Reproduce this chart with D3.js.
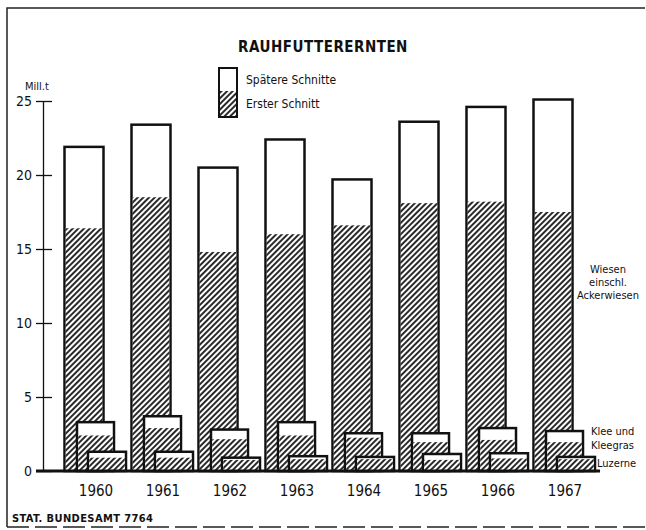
<!DOCTYPE html>
<html lang="de">
<head>
<meta charset="utf-8">
<title>Rauhfuttererernten</title>
<style>
  body { margin: 0; background: #fff; }
  text { font-family: "Liberation Sans Narrow", "DejaVu Sans Condensed", "Roboto Condensed", sans-serif; font-stretch: condensed; fill: #111; }
  .title { font-size: 15px; font-weight: bold; letter-spacing: 0.5px; text-anchor: middle; }
  .axis text { font-size: 14px; }
  .lbl { font-size: 12px; }
  .side { font-size: 11px; }
  .bar { fill: #fff; stroke: #111; stroke-width: 2.5; }
  .hatch { fill: url(#hatch); }
</style>
</head>
<body>
<div id="chart"></div>
<script src="https://cdn.jsdelivr.net/npm/d3@7"></script>
<script>

var years = [1960, 1961, 1962, 1963, 1964, 1965, 1966, 1967];

// Wiesen einschl. Ackerwiesen
var wiesenTotal  = [21.9, 23.4, 20.5, 22.4, 19.7, 23.6, 24.6, 25.1];
var wiesenErster = [16.4, 18.5, 14.8, 16.0, 16.6, 18.1, 18.2, 17.5];
// Klee und Kleegras
var kleeTotal  = [3.3, 3.7, 2.8, 3.3, 2.55, 2.55, 2.9, 2.7];
var kleeErster = [2.4, 2.9, 2.15, 2.4, 2.25, 1.95, 2.1, 1.95];
// Luzerne
var luzTotal  = [1.3, 1.3, 0.9, 1.0, 0.95, 1.15, 1.2, 0.95];
var luzErster = [0.9, 0.9, 0.75, 0.8, 0.8, 0.75, 0.85, 0.8];

var yTicks = [0, 5, 10, 15, 20, 25];

var width = 646, height = 530;

var svg = d3.select("#chart").append("svg")
    .attr("width", width)
    .attr("height", height);

var defs = svg.append("defs");
var pat = defs.append("pattern")
    .attr("id", "hatch")
    .attr("patternUnits", "userSpaceOnUse")
    .attr("width", 4)
    .attr("height", 4)
    .attr("patternTransform", "rotate(45)");
pat.append("rect").attr("width", 4).attr("height", 4).attr("fill", "#fff");
pat.append("line")
    .attr("x1", 1).attr("y1", 0).attr("x2", 1).attr("y2", 4)
    .attr("stroke", "#111").attr("stroke-width", 1.8);

var yScale = d3.scaleLinear().domain([0, 25]).range([471, 101]);
var xScale = d3.scalePoint().domain(years).range([95.5, 564.5]);

// frame
svg.append("path")
   .attr("d", "M7,527 L7,8 L645,8")
   .attr("fill", "none")
   .attr("stroke", "#222")
   .attr("stroke-width", 1.5);
svg.append("line")
   .attr("x1", 7).attr("x2", 646).attr("y1", 527).attr("y2", 527)
   .attr("stroke", "#222").attr("stroke-width", 1.5)
   .attr("stroke-dasharray", "22,6");

svg.append("text").attr("class", "title")
   .attr("x", 323).attr("y", 52)
   .text("RAUHFUTTERERNTEN");

// legend
svg.append("rect").attr("class", "bar")
   .attr("x", 219).attr("y", 68).attr("width", 18).attr("height", 49)
   .style("stroke-width", 2);
svg.append("rect").attr("class", "hatch")
   .attr("x", 220).attr("y", 91).attr("width", 16).attr("height", 25);
svg.append("text").attr("class", "lbl")
   .attr("x", 246).attr("y", 84).text("Spätere Schnitte");
svg.append("text").attr("class", "lbl")
   .attr("x", 246).attr("y", 108).text("Erster Schnitt");

// y axis
var yAxis = d3.axisLeft(yScale)
    .tickValues(yTicks)
    .tickSizeInner(7)
    .tickSizeOuter(0)
    .tickPadding(4);

var gy = svg.append("g")
    .attr("class", "axis")
    .attr("transform", "translate(43,0)")
    .call(yAxis);
gy.attr("font-family", null).attr("font-size", null);
gy.select(".domain").attr("stroke", "#111").attr("stroke-width", 1.3);
gy.selectAll(".tick line").attr("x1", -7).attr("x2", 9).attr("stroke", "#111").attr("stroke-width", 1.3);

svg.append("text")
   .attr("x", 25).attr("y", 90)
   .style("font-size", "11px")
   .text("Mill.t");

// bars
function drawBars(total, erster, offset, w) {
  var grp = svg.append("g").selectAll("g").data(years).enter().append("g");
  grp.append("rect")
     .attr("class", "bar")
     .attr("x", function(d) { return xScale(d) + offset; })
     .attr("width", w)
     .attr("y", function(d, i) { return yScale(total[i]); })
     .attr("height", function(d, i) { return yScale(0) - yScale(total[i]); });
  grp.append("rect")
     .attr("class", "hatch")
     .attr("x", function(d) { return xScale(d) + offset + 1.25; })
     .attr("width", w - 2.5)
     .attr("y", function(d, i) { return yScale(erster[i]); })
     .attr("height", function(d, i) { return yScale(0) - yScale(erster[i]); });
}

drawBars(wiesenTotal, wiesenErster, -31, 39);
drawBars(kleeTotal, kleeErster, -18.5, 37);
drawBars(luzTotal, luzErster, -7.5, 38);

// baseline
svg.append("line")
   .attr("x1", 36).attr("x2", 600)
   .attr("y1", yScale(0)).attr("y2", yScale(0))
   .attr("stroke", "#111").attr("stroke-width", 2.8);

// year labels
var xAxis = d3.axisBottom(xScale).tickSize(0).tickPadding(14);
var gx = svg.append("g")
    .attr("class", "axis")
    .attr("transform", "translate(0," + yScale(0) + ")")
    .call(xAxis);
gx.attr("font-family", null).attr("font-size", null);
gx.select(".domain").remove();
gx.selectAll(".tick text").style("font-size", "15px");

// series labels
var lab = svg.append("g").attr("class", "side");
lab.append("text").attr("x", 608).attr("y", 273).attr("text-anchor", "middle").text("Wiesen");
lab.append("text").attr("x", 608).attr("y", 286).attr("text-anchor", "middle").text("einschl.");
lab.append("text").attr("x", 608).attr("y", 299).attr("text-anchor", "middle").text("Ackerwiesen");
lab.append("text").attr("x", 591).attr("y", 435).text("Klee und");
lab.append("text").attr("x", 591).attr("y", 449).text("Kleegras");
lab.append("text").attr("x", 597).attr("y", 467).text("Luzerne");

svg.append("text")
   .attr("x", 12).attr("y", 522)
   .style("font-size", "11px")
   .style("font-weight", "bold")
   .style("letter-spacing", "0.4px")
   .text("STAT. BUNDESAMT 7764");

</script>
</body>
</html>
